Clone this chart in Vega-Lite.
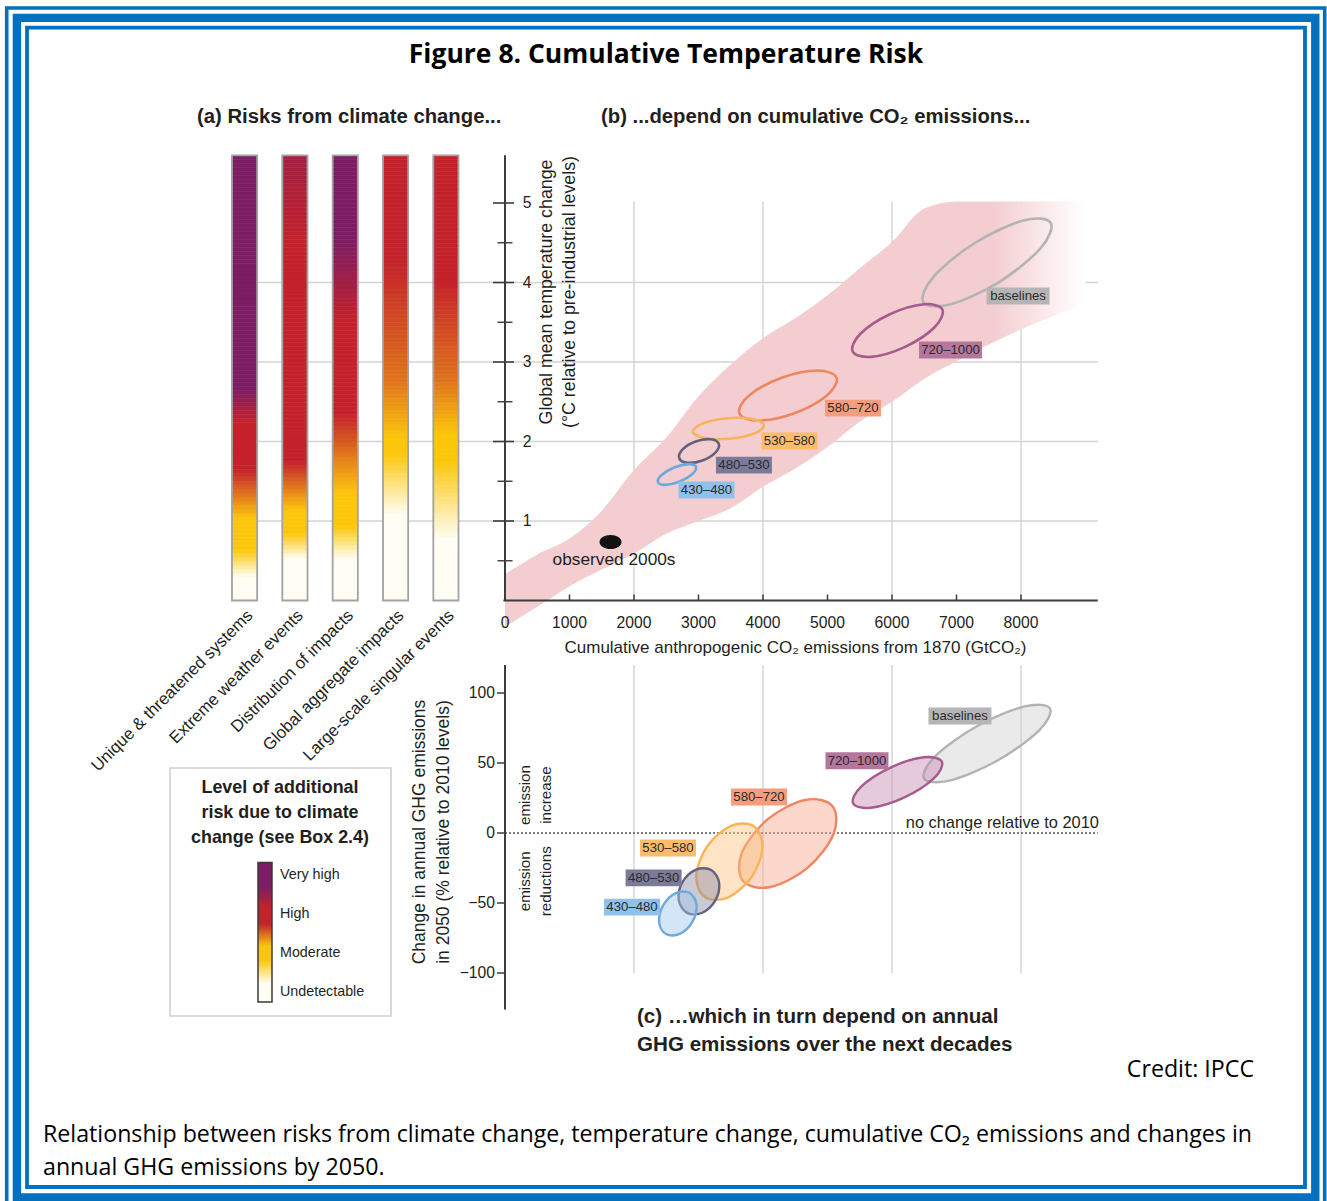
{
"$schema":"https://vega.github.io/schema/vega-lite/v6.json",
"width":1327,"height":1201,"autosize":{"type":"none"},"padding":0,"background":"#ffffff",
"config":{"view":{"stroke":null},"text":{"font":"Liberation Sans","color":"#231f20"}},
"resolve":{"scale":{"x":"independent","y":"independent","color":"independent","fill":"independent","stroke":"independent"}},
"datasets":{
"risk":[
{"t":0,"U":0,"E":0,"D":0,"G":0,"L":0},{"t":0.05,"U":0,"E":0,"D":0,"G":0,"L":0},{"t":0.1,"U":0,"E":0,"D":0,"G":0,"L":0},{"t":0.15,"U":0,"E":0,"D":0,"G":0,"L":0},
{"t":0.2,"U":0,"E":0,"D":0,"G":0,"L":0},{"t":0.25,"U":0,"E":0,"D":0,"G":0,"L":0},{"t":0.3,"U":0.05,"E":0,"D":0,"G":0,"L":0},{"t":0.35,"U":0.2,"E":0,"D":0,"G":0,"L":0},
{"t":0.4,"U":0.35,"E":0,"D":0,"G":0,"L":0},{"t":0.45,"U":0.5,"E":0,"D":0,"G":0,"L":0},{"t":0.5,"U":0.65,"E":0,"D":0,"G":0,"L":0},{"t":0.55,"U":0.8,"E":0.11,"D":0.09,"G":0,"L":0},
{"t":0.6,"U":0.95,"E":0.27,"D":0.21,"G":0,"L":0},{"t":0.65,"U":1,"E":0.44,"D":0.34,"G":0,"L":0},{"t":0.7,"U":1,"E":0.6,"D":0.46,"G":0,"L":0},{"t":0.75,"U":1,"E":0.76,"D":0.59,"G":0,"L":0},
{"t":0.8,"U":1,"E":0.92,"D":0.71,"G":0,"L":0.04},{"t":0.85,"U":1,"E":1,"D":0.84,"G":0,"L":0.09},{"t":0.9,"U":1,"E":1,"D":0.96,"G":0,"L":0.14},{"t":0.95,"U":1,"E":1,"D":1,"G":0,"L":0.19},
{"t":1.0,"U":1,"E":1,"D":1,"G":0,"L":0.24},{"t":1.05,"U":1.06,"E":1,"D":1,"G":0,"L":0.3},{"t":1.1,"U":1.14,"E":1,"D":1,"G":0.05,"L":0.35},{"t":1.15,"U":1.22,"E":1.06,"D":1,"G":0.11,"L":0.4},
{"t":1.2,"U":1.3,"E":1.14,"D":1,"G":0.18,"L":0.45},{"t":1.25,"U":1.39,"E":1.22,"D":1,"G":0.24,"L":0.51},{"t":1.3,"U":1.47,"E":1.3,"D":1,"G":0.31,"L":0.56},{"t":1.35,"U":1.55,"E":1.39,"D":1.02,"G":0.38,"L":0.61},
{"t":1.4,"U":1.63,"E":1.47,"D":1.07,"G":0.44,"L":0.66},{"t":1.45,"U":1.71,"E":1.55,"D":1.12,"G":0.51,"L":0.71},{"t":1.5,"U":1.8,"E":1.63,"D":1.17,"G":0.57,"L":0.77},{"t":1.55,"U":1.88,"E":1.71,"D":1.22,"G":0.64,"L":0.82},
{"t":1.6,"U":1.96,"E":1.8,"D":1.27,"G":0.7,"L":0.87},{"t":1.65,"U":2,"E":1.88,"D":1.32,"G":0.77,"L":0.92},{"t":1.7,"U":2,"E":1.96,"D":1.37,"G":0.84,"L":0.97},{"t":1.75,"U":2,"E":2,"D":1.42,"G":0.9,"L":1},
{"t":1.8,"U":2,"E":2,"D":1.47,"G":0.97,"L":1},{"t":1.85,"U":2,"E":2,"D":1.52,"G":1,"L":1},{"t":1.9,"U":2,"E":2,"D":1.57,"G":1,"L":1},{"t":1.95,"U":2,"E":2,"D":1.62,"G":1,"L":1},
{"t":2.0,"U":2,"E":2,"D":1.67,"G":1,"L":1},{"t":2.05,"U":2,"E":2,"D":1.72,"G":1.02,"L":1},{"t":2.1,"U":2,"E":2,"D":1.77,"G":1.05,"L":1.02},{"t":2.15,"U":2,"E":2,"D":1.82,"G":1.09,"L":1.06},
{"t":2.2,"U":2,"E":2,"D":1.87,"G":1.12,"L":1.09},{"t":2.25,"U":2.04,"E":2,"D":1.92,"G":1.16,"L":1.13},{"t":2.3,"U":2.16,"E":2,"D":1.97,"G":1.19,"L":1.17},{"t":2.35,"U":2.29,"E":2,"D":2,"G":1.23,"L":1.21},
{"t":2.4,"U":2.41,"E":2,"D":2,"G":1.26,"L":1.25},{"t":2.45,"U":2.54,"E":2,"D":2,"G":1.3,"L":1.28},{"t":2.5,"U":2.66,"E":2,"D":2,"G":1.33,"L":1.32},{"t":2.55,"U":2.79,"E":2,"D":2,"G":1.37,"L":1.36},
{"t":2.6,"U":2.91,"E":2,"D":2,"G":1.4,"L":1.4},{"t":2.65,"U":3,"E":2,"D":2,"G":1.44,"L":1.44},{"t":2.7,"U":3,"E":2,"D":2,"G":1.48,"L":1.47},{"t":2.75,"U":3,"E":2,"D":2,"G":1.5,"L":1.51},
{"t":2.8,"U":3,"E":2,"D":2,"G":1.52,"L":1.53},{"t":2.85,"U":3,"E":2,"D":2,"G":1.54,"L":1.55},{"t":2.9,"U":3,"E":2,"D":2,"G":1.55,"L":1.57},{"t":2.95,"U":3,"E":2,"D":2,"G":1.57,"L":1.59},
{"t":3.0,"U":3,"E":2,"D":2,"G":1.59,"L":1.61},{"t":3.05,"U":3,"E":2,"D":2,"G":1.6,"L":1.63},{"t":3.1,"U":3,"E":2,"D":2,"G":1.62,"L":1.64},{"t":3.15,"U":3,"E":2,"D":2,"G":1.64,"L":1.66},
{"t":3.2,"U":3,"E":2,"D":2,"G":1.65,"L":1.68},{"t":3.25,"U":3,"E":2,"D":2,"G":1.67,"L":1.7},{"t":3.3,"U":3,"E":2,"D":2,"G":1.69,"L":1.72},{"t":3.35,"U":3,"E":2,"D":2,"G":1.7,"L":1.74},
{"t":3.4,"U":3,"E":2,"D":2,"G":1.72,"L":1.76},{"t":3.45,"U":3,"E":2,"D":2,"G":1.74,"L":1.78},{"t":3.5,"U":3,"E":2,"D":2,"G":1.75,"L":1.8},{"t":3.55,"U":3,"E":2,"D":2.05,"G":1.77,"L":1.82},
{"t":3.6,"U":3,"E":2,"D":2.1,"G":1.78,"L":1.84},{"t":3.65,"U":3,"E":2,"D":2.15,"G":1.8,"L":1.86},{"t":3.7,"U":3,"E":2,"D":2.2,"G":1.82,"L":1.88},{"t":3.75,"U":3,"E":2,"D":2.25,"G":1.83,"L":1.9},
{"t":3.8,"U":3,"E":2,"D":2.3,"G":1.85,"L":1.92},{"t":3.85,"U":3,"E":2,"D":2.35,"G":1.87,"L":1.94},{"t":3.9,"U":3,"E":2,"D":2.4,"G":1.88,"L":1.96},{"t":3.95,"U":3,"E":2,"D":2.45,"G":1.9,"L":1.98},
{"t":4.0,"U":3,"E":2,"D":2.5,"G":1.91,"L":2},{"t":4.05,"U":3,"E":2,"D":2.55,"G":1.93,"L":2},{"t":4.1,"U":3,"E":2,"D":2.6,"G":1.95,"L":2},{"t":4.15,"U":3,"E":2,"D":2.65,"G":1.96,"L":2},
{"t":4.2,"U":3,"E":2,"D":2.7,"G":1.98,"L":2},{"t":4.25,"U":3,"E":2,"D":2.75,"G":2,"L":2},{"t":4.3,"U":3,"E":2,"D":2.8,"G":2,"L":2},{"t":4.35,"U":3,"E":2,"D":2.85,"G":2,"L":2},
{"t":4.4,"U":3,"E":2,"D":2.9,"G":2,"L":2},{"t":4.45,"U":3,"E":2,"D":2.95,"G":2,"L":2},{"t":4.5,"U":3,"E":2.01,"D":2.99,"G":2,"L":2},{"t":4.55,"U":3,"E":2.03,"D":3,"G":2,"L":2},
{"t":4.6,"U":3,"E":2.05,"D":3,"G":2,"L":2},{"t":4.65,"U":3,"E":2.07,"D":3,"G":2,"L":2},{"t":4.7,"U":3,"E":2.09,"D":3,"G":2,"L":2},{"t":4.75,"U":3,"E":2.11,"D":3,"G":2,"L":2},
{"t":4.8,"U":3,"E":2.13,"D":3,"G":2,"L":2},{"t":4.85,"U":3,"E":2.15,"D":3,"G":2,"L":2},{"t":4.9,"U":3,"E":2.17,"D":3,"G":2,"L":2},{"t":4.95,"U":3,"E":2.19,"D":3,"G":2,"L":2},
{"t":5.0,"U":3,"E":2.21,"D":3,"G":2,"L":2},{"t":5.05,"U":3,"E":2.24,"D":3,"G":2,"L":2},{"t":5.1,"U":3,"E":2.26,"D":3,"G":2,"L":2},{"t":5.15,"U":3,"E":2.28,"D":3,"G":2,"L":2},
{"t":5.2,"U":3,"E":2.3,"D":3,"G":2,"L":2},{"t":5.25,"U":3,"E":2.32,"D":3,"G":2,"L":2},{"t":5.3,"U":3,"E":2.34,"D":3,"G":2,"L":2},{"t":5.35,"U":3,"E":2.36,"D":3,"G":2,"L":2},
{"t":5.4,"U":3,"E":2.38,"D":3,"G":2,"L":2},{"t":5.45,"U":3,"E":2.4,"D":3,"G":2,"L":2},{"t":5.5,"U":3,"E":2.42,"D":3,"G":2,"L":2},{"t":5.55,"U":3,"E":2.44,"D":3,"G":2,"L":2}],
"bars":[{"k":"U","name":"Unique & threatened systems"},{"k":"E","name":"Extreme weather events"},{"k":"D","name":"Distribution of impacts"},{"k":"G","name":"Global aggregate impacts"},{"k":"L","name":"Large-scale singular events"}],
"band":[{"x":0,"lo":-0.33,"hi":0.33},{"x":500,"lo":-0.08,"hi":0.58},{"x":1000,"lo":0.18,"hi":0.78},{"x":1500,"lo":0.39,"hi":1.13},{"x":2000,"lo":0.59,"hi":1.64},{"x":2500,"lo":0.84,"hi":2.05},{"x":3000,"lo":1.0,"hi":2.57},{"x":3500,"lo":1.16,"hi":2.97},{"x":4000,"lo":1.43,"hi":3.3},{"x":4500,"lo":1.66,"hi":3.55},{"x":5000,"lo":1.93,"hi":3.84},{"x":5500,"lo":2.25,"hi":4.18},{"x":6000,"lo":2.5,"hi":4.51},{"x":6500,"lo":2.79,"hi":4.93},{"x":7000,"lo":3.01,"hi":5.02},{"x":7500,"lo":3.22,"hi":5.02},{"x":8000,"lo":3.41,"hi":5.02},{"x":8500,"lo":3.58,"hi":5.02},{"x":9000,"lo":3.73,"hi":5.02}],
"ellB":[
{"s":"baselines","i":0,"x":8459,"T":4.752},{"s":"baselines","i":1,"x":8304,"T":4.431},{"s":"baselines","i":2,"x":7662,"T":4.006},{"s":"baselines","i":3,"x":6909,"T":3.725},{"s":"baselines","i":4,"x":6487,"T":3.752},{"s":"baselines","i":5,"x":6642,"T":4.072},{"s":"baselines","i":6,"x":7284,"T":4.497},{"s":"baselines","i":7,"x":8036,"T":4.779},
{"s":"720–1000","i":0,"x":6781,"T":3.66},{"s":"720–1000","i":1,"x":6660,"T":3.437},{"s":"720–1000","i":2,"x":6203,"T":3.191},{"s":"720–1000","i":3,"x":5677,"T":3.065},{"s":"720–1000","i":4,"x":5390,"T":3.133},{"s":"720–1000","i":5,"x":5510,"T":3.355},{"s":"720–1000","i":6,"x":5967,"T":3.601},{"s":"720–1000","i":7,"x":6494,"T":3.727},
{"s":"580–720","i":0,"x":5141,"T":2.801},{"s":"580–720","i":1,"x":4991,"T":2.579},{"s":"580–720","i":2,"x":4487,"T":2.356},{"s":"580–720","i":3,"x":3925,"T":2.264},{"s":"580–720","i":4,"x":3634,"T":2.356},{"s":"580–720","i":5,"x":3784,"T":2.579},{"s":"580–720","i":6,"x":4288,"T":2.801},{"s":"580–720","i":7,"x":4850,"T":2.893},
{"s":"530–580","i":0,"x":4015,"T":2.203},{"s":"530–580","i":1,"x":3863,"T":2.1},{"s":"530–580","i":2,"x":3478,"T":2.034},{"s":"530–580","i":3,"x":3084,"T":2.045},{"s":"530–580","i":4,"x":2912,"T":2.124},{"s":"530–580","i":5,"x":3064,"T":2.227},{"s":"530–580","i":6,"x":3450,"T":2.293},{"s":"530–580","i":7,"x":3844,"T":2.282},
{"s":"480–530","i":0,"x":3314,"T":1.971},{"s":"480–530","i":1,"x":3262,"T":1.861},{"s":"480–530","i":2,"x":3061,"T":1.762},{"s":"480–530","i":3,"x":2829,"T":1.733},{"s":"480–530","i":4,"x":2702,"T":1.79},{"s":"480–530","i":5,"x":2754,"T":1.9},{"s":"480–530","i":6,"x":2955,"T":1.999},{"s":"480–530","i":7,"x":3187,"T":2.028},
{"s":"430–480","i":0,"x":2961,"T":1.682},{"s":"430–480","i":1,"x":2906,"T":1.592},{"s":"430–480","i":2,"x":2710,"T":1.497},{"s":"430–480","i":3,"x":2489,"T":1.455},{"s":"430–480","i":4,"x":2372,"T":1.488},{"s":"430–480","i":5,"x":2428,"T":1.578},{"s":"430–480","i":6,"x":2623,"T":1.672},{"s":"430–480","i":7,"x":2844,"T":1.715}],
"ellC":[
{"s":"baselines","i":0,"x":8450,"v":88.87},{"s":"baselines","i":1,"x":8270,"v":72.73},{"s":"baselines","i":2,"x":7623,"v":51.43},{"s":"baselines","i":3,"x":6889,"v":37.46},{"s":"baselines","i":4,"x":6496,"v":38.99},{"s":"baselines","i":5,"x":6676,"v":55.13},{"s":"baselines","i":6,"x":7323,"v":76.43},{"s":"baselines","i":7,"x":8057,"v":90.4},
{"s":"720–1000","i":0,"x":6774,"v":50.88},{"s":"720–1000","i":1,"x":6648,"v":38.99},{"s":"720–1000","i":2,"x":6193,"v":25.39},{"s":"720–1000","i":3,"x":5675,"v":18.05},{"s":"720–1000","i":4,"x":5397,"v":21.26},{"s":"720–1000","i":5,"x":5522,"v":33.15},{"s":"720–1000","i":6,"x":5977,"v":46.75},{"s":"720–1000","i":7,"x":6496,"v":54.09},
{"s":"580–720","i":0,"x":5075,"v":19.28},{"s":"580–720","i":1,"x":5094,"v":-0.71},{"s":"580–720","i":2,"x":4696,"v":-24.68},{"s":"580–720","i":3,"x":4115,"v":-38.57},{"s":"580–720","i":4,"x":3691,"v":-34.28},{"s":"580–720","i":5,"x":3672,"v":-14.29},{"s":"580–720","i":6,"x":4070,"v":9.68},{"s":"580–720","i":7,"x":4651,"v":23.57},
{"s":"530–580","i":0,"x":3862,"v":4.66},{"s":"530–580","i":1,"x":3992,"v":-10.54},{"s":"530–580","i":2,"x":3822,"v":-31.57},{"s":"530–580","i":3,"x":3451,"v":-46.11},{"s":"530–580","i":4,"x":3096,"v":-45.66},{"s":"530–580","i":5,"x":2966,"v":-30.46},{"s":"530–580","i":6,"x":3136,"v":-9.43},{"s":"530–580","i":7,"x":3507,"v":5.11},
{"s":"480–530","i":0,"x":3197,"v":-26.43},{"s":"480–530","i":1,"x":3320,"v":-35.64},{"s":"480–530","i":2,"x":3259,"v":-48.36},{"s":"480–530","i":3,"x":3050,"v":-57.15},{"s":"480–530","i":4,"x":2816,"v":-56.86},{"s":"480–530","i":5,"x":2693,"v":-47.65},{"s":"480–530","i":6,"x":2754,"v":-34.93},{"s":"480–530","i":7,"x":2963,"v":-26.14},
{"s":"430–480","i":0,"x":2863,"v":-42.84},{"s":"430–480","i":1,"x":2969,"v":-51.38},{"s":"430–480","i":2,"x":2905,"v":-63.5},{"s":"430–480","i":3,"x":2709,"v":-72.11},{"s":"430–480","i":4,"x":2495,"v":-72.16},{"s":"430–480","i":5,"x":2390,"v":-63.62},{"s":"430–480","i":6,"x":2454,"v":-51.5},{"s":"430–480","i":7,"x":2649,"v":-42.89}],
"labB":[{"s":"baselines","x":7954,"T":3.83},{"s":"720–1000","x":6907,"T":3.151},{"s":"580–720","x":5395,"T":2.421},{"s":"530–580","x":4411,"T":2.006},{"s":"480–530","x":3705,"T":1.704},{"s":"430–480","x":3124,"T":1.39}],
"labC":[{"s":"baselines","x":7054,"v":83.6},{"s":"720–1000","x":5457,"v":51.6},{"s":"580–720","x":3938,"v":25.7},{"s":"530–580","x":2527,"v":-10.7},{"s":"480–530","x":2304,"v":-32.1},{"s":"430–480","x":1969,"v":-52.9}],
"obs":[{"label":"observed 2000s","x":1636,"T":0.736}],
"hgrid":[{"T":1},{"T":2},{"T":3},{"T":4}],
"vgrid":[{"x":2000},{"x":4000},{"x":6000},{"x":8000}],
"xticksB":[{"v":0},{"v":1000},{"v":2000},{"v":3000},{"v":4000},{"v":5000},{"v":6000},{"v":7000},{"v":8000}],
"ymajB":[{"t":1},{"t":2},{"t":3},{"t":4},{"t":5}],
"yminB":[{"t":0.5},{"t":1.5},{"t":2.5},{"t":3.5},{"t":4.5}],
"yticksC":[{"v":100},{"v":50},{"v":0},{"v":-50},{"v":-100}],
"levels":[{"level":"Undetectable","r":0},{"level":"Moderate","r":1},{"level":"High","r":2},{"level":"Very high","r":3}]
},
"layer":[
{"data":{"values":[{}]},"layer":[
 {"mark":{"type":"rect","fill":"transparent","stroke":"#0070c0","strokeWidth":3.6},"encoding":{
   "x":{"datum":0.00505,"type":"quantitative","scale":{"domain":[0,1],"range":[0,1327],"nice":false,"zero":false},"axis":null},"x2":{"datum":0.99827},
   "y":{"datum":0.00666,"type":"quantitative","scale":{"domain":[0,1],"range":[0,1201],"nice":false,"zero":false},"axis":null},"y2":{"datum":1.00333}}},
 {"mark":{"type":"rect","fill":"transparent","stroke":"#0070c0","strokeWidth":8.4},"encoding":{
   "x":{"datum":0.01274,"type":"quantitative","scale":{"domain":[0,1],"range":[0,1327],"nice":false,"zero":false},"axis":null},"x2":{"datum":0.99118},
   "y":{"datum":0.0149,"type":"quantitative","scale":{"domain":[0,1],"range":[0,1201],"nice":false,"zero":false},"axis":null},"y2":{"datum":0.99709}}},
 {"mark":{"type":"rect","fill":"transparent","stroke":"#0070c0","strokeWidth":3.8},"encoding":{
   "x":{"datum":0.02035,"type":"quantitative","scale":{"domain":[0,1],"range":[0,1327],"nice":false,"zero":false},"axis":null},"x2":{"datum":0.98342},
   "y":{"datum":0.02306,"type":"quantitative","scale":{"domain":[0,1],"range":[0,1201],"nice":false,"zero":false},"axis":null},"y2":{"datum":0.98834}}}
]},
{"layer":[
 {"data":{"name":"hgrid"},"mark":{"type":"rule","color":"#d3d3d3","strokeWidth":1.4},"encoding":{"y":{"field":"T","type":"quantitative","scale":{"domain":[0,5.6],"range":[600.5,155.3],"nice":false,"zero":false},"axis":null},"x":{"datum":-4031,"type":"quantitative","scale":{"domain":[0,9190],"range":[505,1097.75],"nice":false,"zero":false},"axis":null},"x2":{"datum":9190}}},
 {"data":{"name":"vgrid"},"mark":{"type":"rule","color":"#d3d3d3","strokeWidth":1.4},"encoding":{"x":{"field":"x","type":"quantitative","scale":{"domain":[0,9190],"range":[505,1097.75],"nice":false,"zero":false},"axis":null},"y":{"datum":0,"type":"quantitative","scale":{"domain":[0,5.6],"range":[600.5,155.3],"nice":false,"zero":false},"axis":null},"y2":{"datum":5.02}}}
]},
{"layer":[
 {"data":{"name":"risk"},"transform":[{"fold":["U","E","D","G","L"],"as":["k","risk"]}],"mark":{"type":"rect","strokeWidth":0.6},"encoding":{
   "x":{"field":"k","type":"nominal","scale":{"type":"band","domain":["U","E","D","G","L"],"range":[232,458.5],"paddingInner":0.5,"paddingOuter":0},"axis":null},
   "y":{"field":"t","type":"quantitative","bin":{"binned":true,"step":0.05},"scale":{"domain":[0,5.6],"range":[600.5,155.3],"nice":false,"zero":false},"axis":null},
   "color":{"field":"risk","type":"quantitative","scale":{"domain":[0,1,2,3],"range":["#fffdf4","#fcc70b","#c4222b","#7d1d63"],"interpolate":"rgb","zero":false,"nice":false},"legend":null},
   "stroke":{"field":"risk","type":"quantitative","scale":{"domain":[0,1,2,3],"range":["#fffdf4","#fcc70b","#c4222b","#7d1d63"],"interpolate":"rgb","zero":false,"nice":false},"legend":null}}},
 {"data":{"name":"bars"},"mark":{"type":"rect","fill":"transparent","stroke":"#a3a3a3","strokeWidth":1.8},"encoding":{
   "x":{"field":"k","type":"nominal","scale":{"type":"band","domain":["U","E","D","G","L"],"range":[232,458.5],"paddingInner":0.5,"paddingOuter":0},"axis":null},
   "y":{"datum":0,"type":"quantitative","scale":{"domain":[0,5.6],"range":[600.5,155.3],"nice":false,"zero":false},"axis":null},"y2":{"datum":5.6}}},
 {"data":{"name":"bars"},"mark":{"type":"text","angle":315,"align":"right","baseline":"middle","fontSize":16.8,"xOffset":5.5,"yOffset":12.5},"encoding":{
   "x":{"field":"k","type":"nominal","scale":{"type":"band","domain":["U","E","D","G","L"],"range":[232,458.5],"paddingInner":0.5,"paddingOuter":0},"axis":null},
   "y":{"datum":0,"type":"quantitative","scale":{"domain":[0,5.6],"range":[600.5,155.3],"nice":false,"zero":false},"axis":null},"text":{"field":"name"}}}
]},
{"layer":[
 {"data":{"name":"band"},"mark":{"type":"area","interpolate":"monotone","fill":{"gradient":"linear","x1":0,"y1":0,"x2":1,"y2":0,"stops":[{"offset":0,"color":"#f4cdd0"},{"offset":0.84,"color":"#f4cdd0"},{"offset":1,"color":"#ffffff"}]}},"encoding":{
   "x":{"field":"x","type":"quantitative","scale":{"domain":[0,9190],"range":[505,1097.75],"nice":false,"zero":false},"axis":null},
   "y":{"field":"lo","type":"quantitative","scale":{"domain":[0,5.6],"range":[600.5,155.3],"nice":false,"zero":false},"axis":null},"y2":{"field":"hi"}}},
 {"data":{"name":"ellB"},"mark":{"type":"line","interpolate":"cardinal-closed","strokeWidth":2.6},"encoding":{
   "x":{"field":"x","type":"quantitative","scale":{"domain":[0,9190],"range":[505,1097.75],"nice":false,"zero":false},"axis":null},
   "y":{"field":"T","type":"quantitative","scale":{"domain":[0,5.6],"range":[600.5,155.3],"nice":false,"zero":false},"axis":null},
   "order":{"field":"i","type":"quantitative"},
   "stroke":{"field":"s","type":"nominal","scale":{"domain":["430–480","480–530","530–580","580–720","720–1000","baselines"],"range":["#6fa8dc","#62627f","#f8b45a","#f0865f","#a75a8d","#b3b3b3"]},"legend":null}}},
 {"data":{"name":"obs"},"mark":{"type":"point","shape":"M-1,0C-1,-0.353,-0.552,-0.64,0,-0.64C0.552,-0.64,1,-0.353,1,0C1,0.353,0.552,0.64,0,0.64C-0.552,0.64,-1,0.353,-1,0Z","size":484,"filled":true,"color":"#111111","opacity":1},"encoding":{
   "x":{"field":"x","type":"quantitative","scale":{"domain":[0,9190],"range":[505,1097.75],"nice":false,"zero":false},"axis":null},
   "y":{"field":"T","type":"quantitative","scale":{"domain":[0,5.6],"range":[600.5,155.3],"nice":false,"zero":false},"axis":null}}},
 {"data":{"name":"obs"},"mark":{"type":"text","fontSize":17.3,"dx":3.5,"dy":18.5,"align":"center","baseline":"middle"},"encoding":{
   "x":{"field":"x","type":"quantitative","scale":{"domain":[0,9190],"range":[505,1097.75],"nice":false,"zero":false},"axis":null},
   "y":{"field":"T","type":"quantitative","scale":{"domain":[0,5.6],"range":[600.5,155.3],"nice":false,"zero":false},"axis":null},"text":{"field":"label"}}},
 {"data":{"name":"labB"},"transform":[{"filter":{"field":"s","oneOf":["baselines","720–1000"]}}],"mark":{"type":"point","shape":"M-1,-0.27L1,-0.27L1,0.27L-1,0.27Z","size":3969,"filled":true,"opacity":1,"strokeWidth":0},"encoding":{
   "x":{"field":"x","type":"quantitative","scale":{"domain":[0,9190],"range":[505,1097.75],"nice":false,"zero":false},"axis":null},
   "y":{"field":"T","type":"quantitative","scale":{"domain":[0,5.6],"range":[600.5,155.3],"nice":false,"zero":false},"axis":null},
   "color":{"field":"s","type":"nominal","scale":{"domain":["430–480","480–530","530–580","580–720","720–1000","baselines"],"range":["#8fc1ea","#7b7b99","#fcbc6c","#f59d7d","#b5769e","#b5b5b5"]},"legend":null}}},
 {"data":{"name":"labB"},"transform":[{"filter":{"field":"s","oneOf":["580–720","530–580","480–530","430–480"]}}],"mark":{"type":"point","shape":"M-1,-0.3L1,-0.3L1,0.3L-1,0.3Z","size":3136,"filled":true,"opacity":1,"strokeWidth":0},"encoding":{
   "x":{"field":"x","type":"quantitative","scale":{"domain":[0,9190],"range":[505,1097.75],"nice":false,"zero":false},"axis":null},
   "y":{"field":"T","type":"quantitative","scale":{"domain":[0,5.6],"range":[600.5,155.3],"nice":false,"zero":false},"axis":null},
   "color":{"field":"s","type":"nominal","scale":{"domain":["430–480","480–530","530–580","580–720","720–1000","baselines"],"range":["#8fc1ea","#7b7b99","#fcbc6c","#f59d7d","#b5769e","#b5b5b5"]},"legend":null}}},
 {"data":{"name":"labB"},"mark":{"type":"text","fontSize":13.2,"color":"#2b2b2b","align":"center","baseline":"middle"},"encoding":{
   "x":{"field":"x","type":"quantitative","scale":{"domain":[0,9190],"range":[505,1097.75],"nice":false,"zero":false},"axis":null},
   "y":{"field":"T","type":"quantitative","scale":{"domain":[0,5.6],"range":[600.5,155.3],"nice":false,"zero":false},"axis":null},"text":{"field":"s"}}},
 {"data":{"values":[{}]},"mark":{"type":"rule","color":"#3c3c3c","strokeWidth":2},"encoding":{
   "x":{"datum":0,"type":"quantitative","scale":{"domain":[0,9190],"range":[505,1097.75],"nice":false,"zero":false},"axis":null},
   "y":{"datum":0,"type":"quantitative","scale":{"domain":[0,5.6],"range":[600.5,155.3],"nice":false,"zero":false},"axis":null},"y2":{"datum":5.6}}},
 {"data":{"values":[{}]},"mark":{"type":"rule","color":"#3c3c3c","strokeWidth":2},"encoding":{
   "y":{"datum":0,"type":"quantitative","scale":{"domain":[0,5.6],"range":[600.5,155.3],"nice":false,"zero":false},"axis":null},
   "x":{"datum":-25,"type":"quantitative","scale":{"domain":[0,9190],"range":[505,1097.75],"nice":false,"zero":false},"axis":null},"x2":{"datum":9190}}},
 {"data":{"name":"ymajB"},"mark":{"type":"tick","orient":"horizontal","size":21,"thickness":1.6,"color":"#3c3c3c","opacity":1,"xOffset":-1.5},"encoding":{
   "y":{"field":"t","type":"quantitative","scale":{"domain":[0,5.6],"range":[600.5,155.3],"nice":false,"zero":false},"axis":null},
   "x":{"datum":0,"type":"quantitative","scale":{"domain":[0,9190],"range":[505,1097.75],"nice":false,"zero":false},"axis":null}}},
 {"data":{"name":"yminB"},"mark":{"type":"tick","orient":"horizontal","size":15,"thickness":1.4,"color":"#3c3c3c","opacity":1},"encoding":{
   "y":{"field":"t","type":"quantitative","scale":{"domain":[0,5.6],"range":[600.5,155.3],"nice":false,"zero":false},"axis":null},
   "x":{"datum":0,"type":"quantitative","scale":{"domain":[0,9190],"range":[505,1097.75],"nice":false,"zero":false},"axis":null}}},
 {"data":{"name":"xticksB"},"transform":[{"filter":"datum.v > 0"}],"mark":{"type":"tick","orient":"vertical","size":6,"thickness":1.5,"color":"#3c3c3c","opacity":1,"yOffset":-3},"encoding":{
   "x":{"field":"v","type":"quantitative","scale":{"domain":[0,9190],"range":[505,1097.75],"nice":false,"zero":false},"axis":null},
   "y":{"datum":0,"type":"quantitative","scale":{"domain":[0,5.6],"range":[600.5,155.3],"nice":false,"zero":false},"axis":null}}},
 {"data":{"name":"xticksB"},"mark":{"type":"text","fontSize":15.7,"dy":22,"align":"center","baseline":"middle"},"encoding":{
   "x":{"field":"v","type":"quantitative","scale":{"domain":[0,9190],"range":[505,1097.75],"nice":false,"zero":false},"axis":null},
   "y":{"datum":0,"type":"quantitative","scale":{"domain":[0,5.6],"range":[600.5,155.3],"nice":false,"zero":false},"axis":null},
   "text":{"field":"v","type":"quantitative","format":"d"}}},
 {"data":{"name":"ymajB"},"mark":{"type":"text","fontSize":15.7,"dx":22,"align":"center","baseline":"middle"},"encoding":{
   "y":{"field":"t","type":"quantitative","scale":{"domain":[0,5.6],"range":[600.5,155.3],"nice":false,"zero":false},"axis":null},
   "x":{"datum":0,"type":"quantitative","scale":{"domain":[0,9190],"range":[505,1097.75],"nice":false,"zero":false},"axis":null},
   "text":{"field":"t","type":"quantitative","format":"d"}}}
]},
{"layer":[
 {"data":{"name":"vgrid"},"mark":{"type":"rule","color":"#d3d3d3","strokeWidth":1.4},"encoding":{
   "x":{"field":"x","type":"quantitative","scale":{"domain":[0,9190],"range":[505,1097.75],"nice":false,"zero":false},"axis":null},
   "y":{"datum":-100,"type":"quantitative","scale":{"domain":[-126,120],"range":[1009.4,665],"nice":false,"zero":false},"axis":null},"y2":{"datum":120}}},
 {"data":{"values":[{}]},"mark":{"type":"rule","color":"#555555","strokeWidth":1.6,"strokeDash":[2,2]},"encoding":{
   "y":{"datum":0,"type":"quantitative","scale":{"domain":[-126,120],"range":[1009.4,665],"nice":false,"zero":false},"axis":null},
   "x":{"datum":0,"type":"quantitative","scale":{"domain":[0,9190],"range":[505,1097.75],"nice":false,"zero":false},"axis":null},"x2":{"datum":9190}}},
 {"data":{"name":"ellC"},"mark":{"type":"line","interpolate":"cardinal-closed","strokeWidth":2.4,"fillOpacity":0.45},"encoding":{
   "x":{"field":"x","type":"quantitative","scale":{"domain":[0,9190],"range":[505,1097.75],"nice":false,"zero":false},"axis":null},
   "y":{"field":"v","type":"quantitative","scale":{"domain":[-126,120],"range":[1009.4,665],"nice":false,"zero":false},"axis":null},
   "order":{"field":"i","type":"quantitative"},
   "stroke":{"field":"s","type":"nominal","scale":{"domain":["430–480","480–530","530–580","580–720","720–1000","baselines"],"range":["#6fa8dc","#62627f","#f8b45a","#f0865f","#a75a8d","#b3b3b3"]},"legend":null},
   "fill":{"field":"s","type":"nominal","scale":{"domain":["430–480","480–530","530–580","580–720","720–1000","baselines"],"range":["#9ec8ee","#8a8aa6","#fcc37f","#f7a98c","#c48aad","#d0d0d0"]},"legend":null}}},
 {"data":{"name":"labC"},"transform":[{"filter":{"field":"s","oneOf":["baselines","720–1000"]}}],"mark":{"type":"point","shape":"M-1,-0.27L1,-0.27L1,0.27L-1,0.27Z","size":3969,"filled":true,"opacity":1,"strokeWidth":0},"encoding":{
   "x":{"field":"x","type":"quantitative","scale":{"domain":[0,9190],"range":[505,1097.75],"nice":false,"zero":false},"axis":null},
   "y":{"field":"v","type":"quantitative","scale":{"domain":[-126,120],"range":[1009.4,665],"nice":false,"zero":false},"axis":null},
   "color":{"field":"s","type":"nominal","scale":{"domain":["430–480","480–530","530–580","580–720","720–1000","baselines"],"range":["#8fc1ea","#7b7b99","#fcbc6c","#f59d7d","#b5769e","#b5b5b5"]},"legend":null}}},
 {"data":{"name":"labC"},"transform":[{"filter":{"field":"s","oneOf":["580–720","530–580","480–530","430–480"]}}],"mark":{"type":"point","shape":"M-1,-0.3L1,-0.3L1,0.3L-1,0.3Z","size":3136,"filled":true,"opacity":1,"strokeWidth":0},"encoding":{
   "x":{"field":"x","type":"quantitative","scale":{"domain":[0,9190],"range":[505,1097.75],"nice":false,"zero":false},"axis":null},
   "y":{"field":"v","type":"quantitative","scale":{"domain":[-126,120],"range":[1009.4,665],"nice":false,"zero":false},"axis":null},
   "color":{"field":"s","type":"nominal","scale":{"domain":["430–480","480–530","530–580","580–720","720–1000","baselines"],"range":["#8fc1ea","#7b7b99","#fcbc6c","#f59d7d","#b5769e","#b5b5b5"]},"legend":null}}},
 {"data":{"name":"labC"},"mark":{"type":"text","fontSize":13.2,"color":"#2b2b2b","align":"center","baseline":"middle"},"encoding":{
   "x":{"field":"x","type":"quantitative","scale":{"domain":[0,9190],"range":[505,1097.75],"nice":false,"zero":false},"axis":null},
   "y":{"field":"v","type":"quantitative","scale":{"domain":[-126,120],"range":[1009.4,665],"nice":false,"zero":false},"axis":null},"text":{"field":"s"}}},
 {"data":{"values":[{}]},"mark":{"type":"rule","color":"#3c3c3c","strokeWidth":2},"encoding":{
   "x":{"datum":0,"type":"quantitative","scale":{"domain":[0,9190],"range":[505,1097.75],"nice":false,"zero":false},"axis":null},
   "y":{"datum":-126,"type":"quantitative","scale":{"domain":[-126,120],"range":[1009.4,665],"nice":false,"zero":false},"axis":null},"y2":{"datum":120}}},
 {"data":{"name":"yticksC"},"mark":{"type":"tick","orient":"horizontal","size":8,"thickness":1.5,"color":"#3c3c3c","opacity":1,"xOffset":-4},"encoding":{
   "y":{"field":"v","type":"quantitative","scale":{"domain":[-126,120],"range":[1009.4,665],"nice":false,"zero":false},"axis":null},
   "x":{"datum":0,"type":"quantitative","scale":{"domain":[0,9190],"range":[505,1097.75],"nice":false,"zero":false},"axis":null}}},
 {"data":{"name":"yticksC"},"mark":{"type":"text","fontSize":15.7,"dx":-10,"align":"right","baseline":"middle"},"encoding":{
   "y":{"field":"v","type":"quantitative","scale":{"domain":[-126,120],"range":[1009.4,665],"nice":false,"zero":false},"axis":null},
   "x":{"datum":0,"type":"quantitative","scale":{"domain":[0,9190],"range":[505,1097.75],"nice":false,"zero":false},"axis":null},
   "text":{"field":"v","type":"quantitative","format":"d"}}},
 {"data":{"values":[{}]},"mark":{"type":"text","text":"no change relative to 2010","fontSize":16.4,"align":"right","baseline":"middle"},"encoding":{
   "x":{"datum":9209,"type":"quantitative","scale":{"domain":[0,9190],"range":[505,1097.75],"nice":false,"zero":false},"axis":null},
   "y":{"datum":7.1,"type":"quantitative","scale":{"domain":[-126,120],"range":[1009.4,665],"nice":false,"zero":false},"axis":null}}},
 {"data":{"values":[{}]},"mark":{"type":"text","text":["emission","increase"],"angle":270,"lineHeight":21,"fontSize":15.2,"align":"center","baseline":"middle"},"encoding":{
   "x":{"datum":310,"type":"quantitative","scale":{"domain":[0,9190],"range":[505,1097.75],"nice":false,"zero":false},"axis":null},
   "y":{"datum":27.1,"type":"quantitative","scale":{"domain":[-126,120],"range":[1009.4,665],"nice":false,"zero":false},"axis":null}}},
 {"data":{"values":[{}]},"mark":{"type":"text","text":["emission","reductions"],"angle":270,"lineHeight":21,"fontSize":15.2,"align":"center","baseline":"middle"},"encoding":{
   "x":{"datum":310,"type":"quantitative","scale":{"domain":[0,9190],"range":[505,1097.75],"nice":false,"zero":false},"axis":null},
   "y":{"datum":-34.5,"type":"quantitative","scale":{"domain":[-126,120],"range":[1009.4,665],"nice":false,"zero":false},"axis":null}}}
]},
{"layer":[
 {"data":{"values":[{}]},"mark":{"type":"rect","stroke":"#3a3a3a","strokeWidth":1.5,"fill":{"gradient":"linear","x1":0,"y1":1,"x2":0,"y2":0,"stops":[{"offset":0,"color":"#fffdf4"},{"offset":0.13,"color":"#fffdf4"},{"offset":0.3,"color":"#fcc70b"},{"offset":0.4,"color":"#fcc70b"},{"offset":0.56,"color":"#c4222b"},{"offset":0.68,"color":"#c4222b"},{"offset":0.82,"color":"#7d1d63"},{"offset":1,"color":"#7d1d63"}]}},"encoding":{
   "x":{"datum":0,"type":"quantitative","scale":{"domain":[0,1],"range":[258,272],"nice":false,"zero":false},"axis":null},"x2":{"datum":1},
   "y":{"datum":-0.26,"type":"quantitative","scale":{"domain":[-0.26,3.31],"range":[1002,862.5],"nice":false,"zero":false},"axis":null},"y2":{"datum":3.31}}},
 {"data":{"name":"levels"},"mark":{"type":"text","align":"left","baseline":"middle","fontSize":14.3,"dx":8},"encoding":{
   "x":{"datum":1,"type":"quantitative","scale":{"domain":[0,1],"range":[258,272],"nice":false,"zero":false},"axis":null},
   "y":{"field":"r","type":"quantitative","scale":{"domain":[-0.26,3.31],"range":[1002,862.5],"nice":false,"zero":false},"axis":null},
   "text":{"field":"level"}}}
]},
{"data":{"values":[{}]},"layer":[
 {"mark":{"type":"rect","fill":"transparent","stroke":"#cfcfcf","strokeWidth":1.6},"encoding":{
   "x":{"datum":0.12811,"type":"quantitative","scale":{"domain":[0,1],"range":[0,1327],"nice":false,"zero":false},"axis":null},"x2":{"datum":0.29465},
   "y":{"datum":0.63947,"type":"quantitative","scale":{"domain":[0,1],"range":[0,1201],"nice":false,"zero":false},"axis":null},"y2":{"datum":0.84596}}},
 {"mark":{"type":"text","text":"Figure 8. Cumulative Temperature Risk","font":"Open Sans","fontWeight":"bold","fontSize":26.5,"color":"#000000","align":"center","baseline":"middle"},"encoding":{
   "x":{"datum":0.50188,"type":"quantitative","scale":{"domain":[0,1],"range":[0,1327],"nice":false,"zero":false},"axis":null},
   "y":{"datum":0.0458,"type":"quantitative","scale":{"domain":[0,1],"range":[0,1201],"nice":false,"zero":false},"axis":null}}},
 {"mark":{"type":"text","text":"(a) Risks from climate change...","fontWeight":"bold","fontSize":20.3,"align":"left","baseline":"middle"},"encoding":{
   "x":{"datum":0.14846,"type":"quantitative","scale":{"domain":[0,1],"range":[0,1327],"nice":false,"zero":false},"axis":null},
   "y":{"datum":0.09742,"type":"quantitative","scale":{"domain":[0,1],"range":[0,1201],"nice":false,"zero":false},"axis":null}}},
 {"mark":{"type":"text","text":"(b) ...depend on cumulative CO₂ emissions...","fontWeight":"bold","fontSize":20.3,"align":"left","baseline":"middle"},"encoding":{
   "x":{"datum":0.4529,"type":"quantitative","scale":{"domain":[0,1],"range":[0,1327],"nice":false,"zero":false},"axis":null},
   "y":{"datum":0.09742,"type":"quantitative","scale":{"domain":[0,1],"range":[0,1201],"nice":false,"zero":false},"axis":null}}},
 {"mark":{"type":"text","text":["Global mean temperature change","(°C relative to pre-industrial levels)"],"angle":270,"lineHeight":23,"fontSize":17.8,"align":"center","baseline":"middle"},"encoding":{
   "x":{"datum":0.41221,"type":"quantitative","scale":{"domain":[0,1],"range":[0,1327],"nice":false,"zero":false},"axis":null},
   "y":{"datum":0.24313,"type":"quantitative","scale":{"domain":[0,1],"range":[0,1201],"nice":false,"zero":false},"axis":null}}},
 {"mark":{"type":"text","text":"Cumulative anthropogenic CO₂ emissions from 1870 (GtCO₂)","fontSize":17,"align":"center","baseline":"middle"},"encoding":{
   "x":{"datum":0.59947,"type":"quantitative","scale":{"domain":[0,1],"range":[0,1327],"nice":false,"zero":false},"axis":null},
   "y":{"datum":0.53955,"type":"quantitative","scale":{"domain":[0,1],"range":[0,1201],"nice":false,"zero":false},"axis":null}}},
 {"mark":{"type":"text","text":["Change in annual GHG emissions","in 2050 (% relative to 2010 levels)"],"angle":270,"lineHeight":24,"fontSize":17.5,"align":"center","baseline":"middle"},"encoding":{
   "x":{"datum":0.3165,"type":"quantitative","scale":{"domain":[0,1],"range":[0,1327],"nice":false,"zero":false},"axis":null},
   "y":{"datum":0.69276,"type":"quantitative","scale":{"domain":[0,1],"range":[0,1201],"nice":false,"zero":false},"axis":null}}},
 {"mark":{"type":"text","text":["(c) …which in turn depend on annual","GHG emissions over the next decades"],"fontWeight":"bold","fontSize":20.6,"lineHeight":28,"align":"left","baseline":"middle"},"encoding":{
   "x":{"datum":0.48003,"type":"quantitative","scale":{"domain":[0,1],"range":[0,1327],"nice":false,"zero":false},"axis":null},
   "y":{"datum":0.8468,"type":"quantitative","scale":{"domain":[0,1],"range":[0,1201],"nice":false,"zero":false},"axis":null}}},
 {"mark":{"type":"text","text":["Level of additional","risk due to climate","change (see Box 2.4)"],"fontWeight":"bold","fontSize":17.9,"lineHeight":25,"align":"center","baseline":"middle"},"encoding":{
   "x":{"datum":0.211,"type":"quantitative","scale":{"domain":[0,1],"range":[0,1327],"nice":false,"zero":false},"axis":null},
   "y":{"datum":0.65612,"type":"quantitative","scale":{"domain":[0,1],"range":[0,1201],"nice":false,"zero":false},"axis":null}}},
 {"mark":{"type":"text","text":"Credit: IPCC","font":"Open Sans","fontSize":23.2,"color":"#000000","align":"right","baseline":"middle"},"encoding":{
   "x":{"datum":0.94499,"type":"quantitative","scale":{"domain":[0,1],"range":[0,1327],"nice":false,"zero":false},"axis":null},
   "y":{"datum":0.89093,"type":"quantitative","scale":{"domain":[0,1],"range":[0,1201],"nice":false,"zero":false},"axis":null}}},
 {"mark":{"type":"text","text":["Relationship between risks from climate change, temperature change, cumulative CO₂ emissions and changes in","annual GHG emissions by 2050."],"font":"Open Sans","fontSize":23.2,"lineHeight":33,"color":"#000000","align":"left","baseline":"middle"},"encoding":{
   "x":{"datum":0.0324,"type":"quantitative","scale":{"domain":[0,1],"range":[0,1327],"nice":false,"zero":false},"axis":null},
   "y":{"datum":0.94505,"type":"quantitative","scale":{"domain":[0,1],"range":[0,1201],"nice":false,"zero":false},"axis":null}}}
]}
]
}
